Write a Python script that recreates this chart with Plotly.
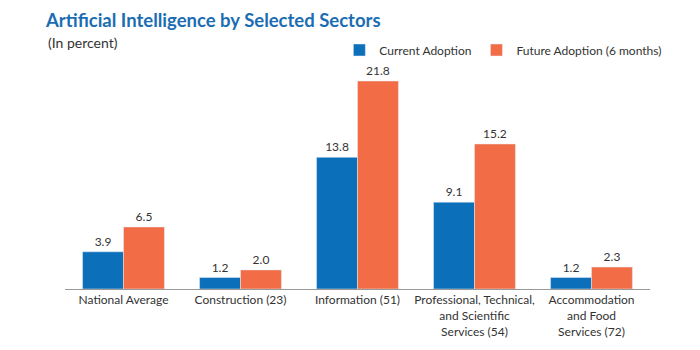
import plotly.graph_objects as go

categories = ["National Average", "Construction (23)", "Information (51)",
              "Professional, Technical,<br>and Scientific<br>Services (54)",
              "Accommodation<br>and Food<br>Services (72)"]
current = [3.9, 1.2, 13.8, 9.1, 1.2]
future = [6.5, 2.0, 21.8, 15.2, 2.3]

BLUE = "#0b6fba"
ORANGE = "#f26d45"
FONT = "Lato, Open Sans, sans-serif"

fig = go.Figure()
fig.add_trace(go.Bar(name="Current Adoption", x=categories, y=current, marker_color=BLUE,
                     text=[f"{v:.1f}" for v in current], textposition="outside",
                     textfont=dict(size=12, color="#333"), cliponaxis=False))
fig.add_trace(go.Bar(name="Future Adoption (6 months)", x=categories, y=future, marker_color=ORANGE,
                     text=[f"{v:.1f}" for v in future], textposition="outside",
                     textfont=dict(size=12, color="#333"), cliponaxis=False))

fig.update_layout(
    width=700, height=350,
    margin=dict(l=65, r=50, t=60, b=61),
    paper_bgcolor="white", plot_bgcolor="white",
    barmode="group", bargap=0.30, bargroupgap=0,
    font=dict(family=FONT, size=12, color="#333"),
    title=dict(text="<b>Artificial Intelligence by Selected Sectors</b>",
               x=46/700, xanchor="left", y=1-21/350, yanchor="middle",
               font=dict(size=18.5, color="#1b6db3", family=FONT)),
    legend=dict(orientation="h", x=0.469, xanchor="left", y=1+10/229, yanchor="middle",
                font=dict(size=12, color="#333"), traceorder="normal"),
    annotations=[dict(text="(In percent)", xref="paper", yref="paper",
                      x=-19/585, xanchor="left", y=1+18/229, yanchor="middle",
                      showarrow=False, font=dict(size=14, color="#333"))],
)
fig.update_xaxes(showline=True, linecolor="#999", linewidth=1, ticks="", showgrid=False,
                 tickfont=dict(size=12, color="#333"))
fig.update_yaxes(visible=False, range=[0, 24], showgrid=False)

fig.write_html("out.html")
